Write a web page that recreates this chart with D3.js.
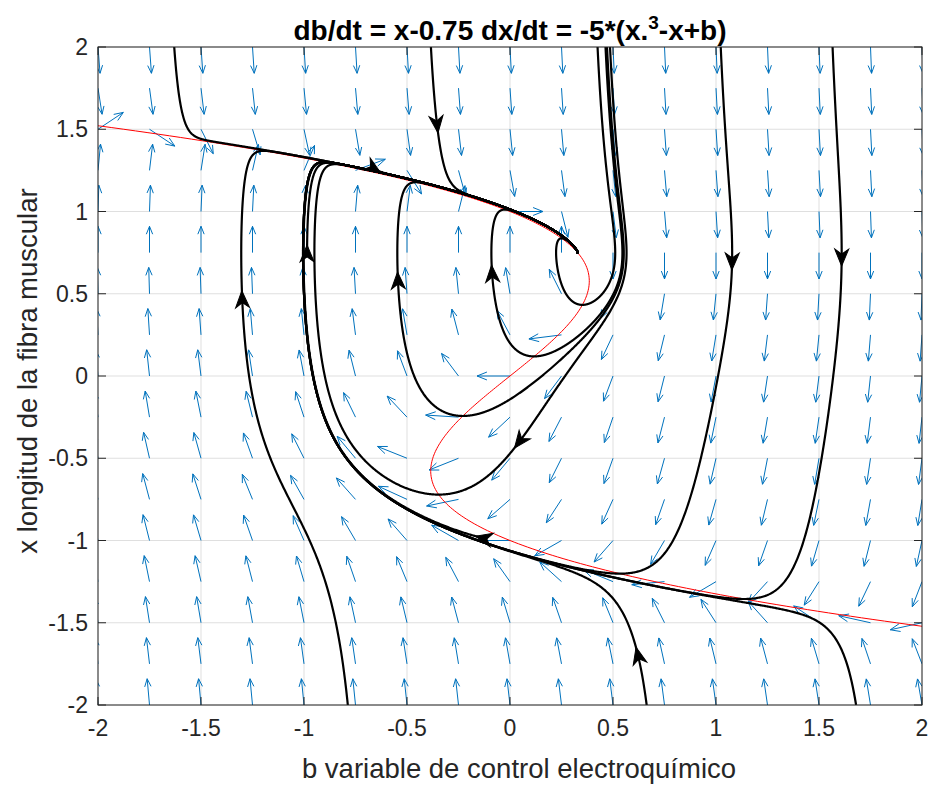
<!DOCTYPE html>
<html>
<head>
<meta charset="utf-8">
<script src="https://cdn.jsdelivr.net/npm/d3@7"></script>
<style>
  body { margin: 0; background: #fff; }
  text { font-family: "Liberation Sans", Arial, Helvetica, sans-serif; }
</style>
</head>
<body>
<svg id="chart" width="932" height="786"></svg>
<script>
// ---- data ----
const xLabel = "b variable de control electroquímico";
const yLabel = "x longitud de la fibra muscular";
const tickValues = [-2, -1.5, -1, -0.5, 0, 0.5, 1, 1.5, 2];
const tickLabels = ["-2", "-1.5", "-1", "-0.5", "0", "0.5", "1", "1.5", "2"];
// quiver grid (b and x)
const quiverB = [-2, -1.75, -1.5, -1.25, -1, -0.75, -0.5, -0.25, 0, 0.25, 0.5, 0.75, 1, 1.25, 1.5, 1.75, 2];
const quiverX = [-2, -1.75, -1.5, -1.25, -1, -0.75, -0.5, -0.25, 0, 0.25, 0.5, 0.75, 1, 1.25, 1.5, 1.75, 2];
// model parameters, read from the title
const x0 = 0.75, gain = 5;
// trajectories with an arrow at their initial point
const startB = [-0.66, -0.354, -0.985, -1.30, -0.544, -0.087, 1.078, 1.61, 0.045, -0.131, 0.621];
const startX = [1.26, 1.526, 0.748, 0.47, 0.584, 0.626, 0.693, 0.717, -0.40, -0.985, -1.696];
const backT = [0, 6, 0, 6, 6, 6, 6, 6, 6, 0, 6];
// trajectories entering from the plot edge (no arrow)
const entryB = [-1.63, 0.425, 1.68];
const entryX = [2, 2, -2];
// nullcline sample x values
const nullX = d3.range(-2, 2.0001, 0.01);

// ---- layout ----
const svg = d3.select("#chart");
const L = 98, R = 922, T = 47, B = 705;
const sx = d3.scaleLinear().domain([-2, 2]).range([L, R]);
const sy = d3.scaleLinear().domain([-2, 2]).range([B, T]);
function field(b, x) { return [x - x0, -gain * (x * x * x - x + b)]; }

svg.append("defs").append("clipPath").attr("id", "clip")
  .append("rect").attr("x", L).attr("y", T).attr("width", R - L).attr("height", B - T);

// grid
const grid = svg.append("g");
tickValues.forEach(v => {
  grid.append("line").attr("x1", sx(v)).attr("x2", sx(v)).attr("y1", T).attr("y2", B).attr("stroke", "#dfdfdf");
  grid.append("line").attr("y1", sy(v)).attr("y2", sy(v)).attr("x1", L).attr("x2", R).attr("stroke", "#dfdfdf");
});

const plot = svg.append("g").attr("clip-path", "url(#clip)");

// quiver (normalised direction field)
const qscale = 0.16;
const qg = plot.append("g").attr("stroke", "#0072BD").attr("stroke-width", 1).attr("fill", "none");
quiverB.forEach(b => quiverX.forEach(x => {
  const [u, v] = field(b, x);
  const len = Math.hypot(u, v);
  const du = u / len * qscale, dv = v / len * qscale;
  const px0 = sx(b), py0 = sy(x), px1 = sx(b + du), py1 = sy(x + dv);
  const ang = Math.atan2(py1 - py0, px1 - px0);
  const plen = Math.hypot(px1 - px0, py1 - py0);
  const hl = plen * 0.3, hw = plen * 0.12;
  const bx = px1 - hl * Math.cos(ang), by = py1 - hl * Math.sin(ang);
  const nx = -Math.sin(ang), ny = Math.cos(ang);
  qg.append("path").attr("d",
    `M${px0},${py0}L${px1},${py1}M${bx + nx * hw},${by + ny * hw}L${px1},${py1}L${bx - nx * hw},${by - ny * hw}`);
}));

// nullcline dx/dt = 0
const nullPts = nullX.map(x => [x - x * x * x, x]);
plot.append("path").datum(nullPts).attr("d", d3.line().x(d => sx(d[0])).y(d => sy(d[1])))
  .attr("fill", "none").attr("stroke", "#ff0000").attr("stroke-width", 1);

// trajectories
function integrate(b, x, dir, tmax) {
  const dt = 0.002 * dir;
  const pts = [[b, x]];
  let t = 0;
  while (t < tmax) {
    const k1 = field(b, x);
    const k2 = field(b + dt / 2 * k1[0], x + dt / 2 * k1[1]);
    const k3 = field(b + dt / 2 * k2[0], x + dt / 2 * k2[1]);
    const k4 = field(b + dt * k3[0], x + dt * k3[1]);
    b += dt / 6 * (k1[0] + 2 * k2[0] + 2 * k3[0] + k4[0]);
    x += dt / 6 * (k1[1] + 2 * k2[1] + 2 * k3[1] + k4[1]);
    pts.push([b, x]);
    t += Math.abs(dt);
    if (Math.abs(b) > 2.1 || Math.abs(x) > 2.1) break;
  }
  return pts;
}
const tg = plot.append("g");
const line = d3.line().x(d => sx(d[0])).y(d => sy(d[1]));
function drawTraj(b0, xi, bt) {
  const fwd = integrate(b0, xi, 1, 20);
  const bwd = integrate(b0, xi, -1, bt);
  const pts = bwd.reverse().concat(fwd.slice(1));
  tg.append("path").datum(pts).attr("d", line).attr("fill", "none")
    .attr("stroke", "#000").attr("stroke-width", 2.2).attr("stroke-linejoin", "round");
}
startB.forEach((b0, i) => drawTraj(b0, startX[i], backT[i]));
entryB.forEach((b0, i) => drawTraj(b0, entryX[i], 0));
startB.forEach((b0, i) => {
  const [u, v] = field(b0, startX[i]);
  const pu = u * (sx(1) - sx(0)), pv = v * (sy(1) - sy(0));
  const ang = Math.atan2(pv, pu) * 180 / Math.PI;
  tg.append("path").attr("transform", `translate(${sx(b0)},${sy(startX[i])}) rotate(${ang})`)
    .attr("d", "M8,0 L-9,-7 L-4,0 L-9,7 Z").attr("fill", "#000").attr("stroke", "#000");
});

// axes box and ticks
svg.append("rect").attr("x", L).attr("y", T).attr("width", R - L).attr("height", B - T)
  .attr("fill", "none").attr("stroke", "#262626");
const tk = svg.append("g").attr("stroke", "#262626");
tickValues.forEach(v => {
  tk.append("line").attr("x1", sx(v)).attr("x2", sx(v)).attr("y1", B).attr("y2", B - 8);
  tk.append("line").attr("x1", sx(v)).attr("x2", sx(v)).attr("y1", T).attr("y2", T + 8);
  tk.append("line").attr("y1", sy(v)).attr("y2", sy(v)).attr("x1", L).attr("x2", L + 8);
  tk.append("line").attr("y1", sy(v)).attr("y2", sy(v)).attr("x1", R).attr("x2", R - 8);
});
const lab = svg.append("g").attr("fill", "#262626").attr("font-size", 23);
tickValues.forEach((v, i) => {
  lab.append("text").attr("x", sx(v)).attr("y", 736).attr("text-anchor", "middle").text(tickLabels[i]);
  lab.append("text").attr("x", 88).attr("y", sy(v) + 8).attr("text-anchor", "end").text(tickLabels[i]);
});
svg.append("text").attr("x", 519).attr("y", 778).attr("text-anchor", "middle")
  .attr("font-size", 27.5).attr("fill", "#262626").text(xLabel);
svg.append("text").attr("transform", `translate(37,${371}) rotate(-90)`)
  .attr("text-anchor", "middle").attr("font-size", 27.5).attr("fill", "#262626").text(yLabel);
const tt = svg.append("text").attr("x", 510).attr("y", 40).attr("text-anchor", "middle")
  .attr("font-size", 28).attr("font-weight", "bold").attr("fill", "#000");
tt.append("tspan").text("db/dt = x-0.75 dx/dt = -5*(x.");
tt.append("tspan").attr("dy", -11).attr("font-size", 19).text("3");
tt.append("tspan").attr("dy", 11).text("-x+b)");
</script>
</body>
</html>
